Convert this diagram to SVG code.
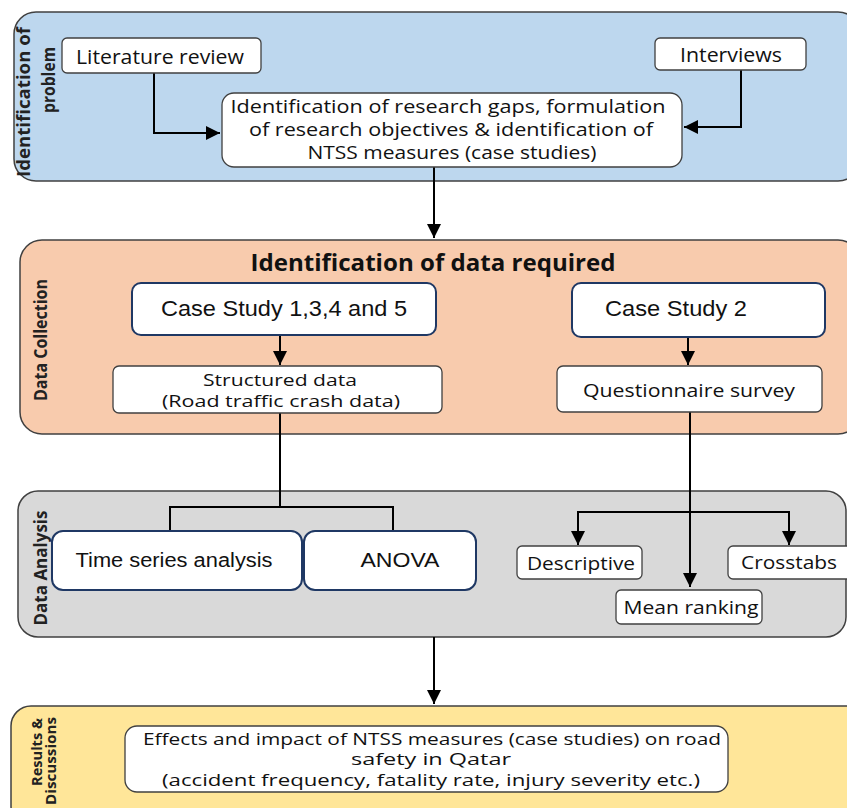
<svg xmlns="http://www.w3.org/2000/svg" width="847" height="808" viewBox="0 0 847 808">
<style>
.panel{stroke:#404040;stroke-width:1.5}
.box{fill:#fff;stroke:#404040;stroke-width:1.3}
.dbox{fill:#fff;stroke:#1f3864;stroke-width:2}
.t{font-family:"Open Sans","Liberation Sans",sans-serif;fill:#111;text-anchor:middle}
.a{font-family:"Liberation Sans",Arial,sans-serif;fill:#111;text-anchor:middle}
.side{font-family:"Open Sans","Liberation Sans",sans-serif;font-weight:bold;fill:#222;text-anchor:middle}
.ln{fill:none;stroke:#000;stroke-width:2}
</style>
<defs>
<marker id="ah2" viewBox="0 0 10 10" refX="10" refY="5" markerWidth="14" markerHeight="14" markerUnits="userSpaceOnUse" orient="auto">
<path d="M0,0 L10,5 L0,10 z" fill="#000"/>
</marker>
</defs>

<g id="panel-problem">
<rect class="panel" x="14" y="12" width="846" height="169" rx="22" fill="#bdd7ee"/>
<text class="side" font-size="17" transform="translate(30,102) rotate(-90)" textLength="150" lengthAdjust="spacingAndGlyphs">Identification of</text>
<text class="side" font-size="17" transform="translate(55,80) rotate(-90)" textLength="66" lengthAdjust="spacingAndGlyphs">problem</text>
</g>
<g id="panel-collection">
<rect class="panel" x="20" y="240" width="840" height="194" rx="22" fill="#f8cbad"/>
<text class="side" font-size="17" transform="translate(47,340) rotate(-90)" textLength="122" lengthAdjust="spacingAndGlyphs">Data Collection</text>
<text x="433" y="271" font-family="'Open Sans','Liberation Sans',sans-serif" font-weight="bold" font-size="23" text-anchor="middle" fill="#111" textLength="365" lengthAdjust="spacingAndGlyphs">Identification of data required</text>
</g>
<g id="panel-analysis">
<rect class="panel" x="18" y="491" width="828" height="146" rx="20" fill="#d9d9d9"/>
<text class="side" font-size="17" transform="translate(47,568) rotate(-90)" textLength="115" lengthAdjust="spacingAndGlyphs">Data Analysis</text>
</g>
<g id="panel-results">
<rect class="panel" x="11" y="706" width="860" height="120" rx="20" fill="#ffe699"/>
<text class="side" font-size="15" transform="translate(42,752) rotate(-90)" textLength="68" lengthAdjust="spacingAndGlyphs">Results &amp;</text>
<text class="side" font-size="15" transform="translate(56,761) rotate(-90)" textLength="88" lengthAdjust="spacingAndGlyphs">Discussions</text>
</g>

<g id="connectors">
<polyline class="ln" points="154,73 154,133 220,133" marker-end="url(#ah2)"/>
<polyline class="ln" points="741,70 741,127 684,127" marker-end="url(#ah2)"/>
<line class="ln" x1="434" y1="167" x2="434" y2="238" marker-end="url(#ah2)"/>
<line class="ln" x1="280" y1="336" x2="280" y2="365" marker-end="url(#ah2)"/>
<line class="ln" x1="688" y1="338" x2="688" y2="365" marker-end="url(#ah2)"/>
<polyline class="ln" points="280,413 280,507"/>
<polyline class="ln" points="170,531 170,507 393,507 393,531"/>
<line class="ln" x1="690" y1="412" x2="690" y2="587" marker-end="url(#ah2)"/>
<polyline class="ln" points="578,530 578,512 789,512 789,530"/>
<line class="ln" x1="578" y1="529" x2="578" y2="545" marker-end="url(#ah2)"/>
<line class="ln" x1="789" y1="529" x2="789" y2="545" marker-end="url(#ah2)"/>
<line class="ln" x1="434" y1="637" x2="434" y2="704" marker-end="url(#ah2)"/>
</g>

<g id="lit-review">
<rect class="box" x="62" y="38" width="199" height="35" rx="5"/>
<text class="t" x="160" y="64" font-size="20" textLength="168" lengthAdjust="spacingAndGlyphs">Literature review</text>
</g>
<g id="interviews">
<rect class="box" x="655" y="38" width="151" height="32" rx="5"/>
<text class="t" x="731" y="62" font-size="20" textLength="102" lengthAdjust="spacingAndGlyphs">Interviews</text>
</g>
<g id="research-gaps">
<rect class="box" x="222" y="93" width="460" height="74" rx="12"/>
<text class="t" font-size="18"><tspan x="448" y="113" textLength="435" lengthAdjust="spacingAndGlyphs">Identification of research gaps, formulation</tspan><tspan x="451" y="136" textLength="404" lengthAdjust="spacingAndGlyphs">of research objectives &amp; identification of</tspan><tspan x="452" y="159" textLength="289" lengthAdjust="spacingAndGlyphs">NTSS measures (case studies)</tspan></text>
</g>
<g id="case-study-1345">
<rect class="dbox" x="132" y="283" width="304" height="52" rx="9"/>
<text class="a" x="284" y="316" font-size="22" textLength="246" lengthAdjust="spacingAndGlyphs">Case Study 1,3,4 and 5</text>
</g>
<g id="case-study-2">
<rect class="dbox" x="572" y="283" width="253" height="54" rx="9"/>
<text class="a" x="676" y="316" font-size="22" textLength="142" lengthAdjust="spacingAndGlyphs">Case Study 2</text>
</g>
<g id="structured-data">
<rect class="box" x="113" y="366" width="329" height="47" rx="6"/>
<text class="t" font-size="17"><tspan x="280" y="386" textLength="154" lengthAdjust="spacingAndGlyphs">Structured data</tspan><tspan x="281" y="407" textLength="238" lengthAdjust="spacingAndGlyphs">(Road traffic crash data)</tspan></text>
</g>
<g id="questionnaire">
<rect class="box" x="557" y="366" width="265" height="46" rx="6"/>
<text class="t" x="689" y="397" font-size="19" textLength="212" lengthAdjust="spacingAndGlyphs">Questionnaire survey</text>
</g>
<g id="time-series">
<rect class="dbox" x="52" y="531" width="250" height="59" rx="11"/>
<text class="a" x="174" y="567" font-size="20" textLength="197" lengthAdjust="spacingAndGlyphs">Time series analysis</text>
</g>
<g id="anova">
<rect class="dbox" x="304" y="531" width="172" height="59" rx="11"/>
<text class="a" x="400" y="567" font-size="20" textLength="79" lengthAdjust="spacingAndGlyphs">ANOVA</text>
</g>
<g id="descriptive">
<rect class="box" x="517" y="546" width="125" height="33" rx="5"/>
<text class="t" x="581" y="570" font-size="19" textLength="108" lengthAdjust="spacingAndGlyphs">Descriptive</text>
</g>
<g id="crosstabs">
<rect class="box" x="728" y="546" width="124" height="33" rx="5"/>
<text class="t" x="789" y="569" font-size="19" textLength="96" lengthAdjust="spacingAndGlyphs">Crosstabs</text>
</g>
<g id="mean-ranking">
<rect class="box" x="616" y="590" width="146" height="34" rx="5"/>
<text class="t" x="691" y="614" font-size="19" textLength="135" lengthAdjust="spacingAndGlyphs">Mean ranking</text>
</g>
<g id="results">
<rect class="box" x="125" y="726" width="603" height="66" rx="12"/>
<text class="t" font-size="16"><tspan x="432" y="745" textLength="578" lengthAdjust="spacingAndGlyphs">Effects and impact of NTSS measures (case studies) on road</tspan><tspan x="431" y="765" textLength="160" lengthAdjust="spacingAndGlyphs">safety in Qatar</tspan><tspan x="431" y="786" textLength="538" lengthAdjust="spacingAndGlyphs">(accident frequency, fatality rate, injury severity etc.)</tspan></text>
</g>
</svg>
